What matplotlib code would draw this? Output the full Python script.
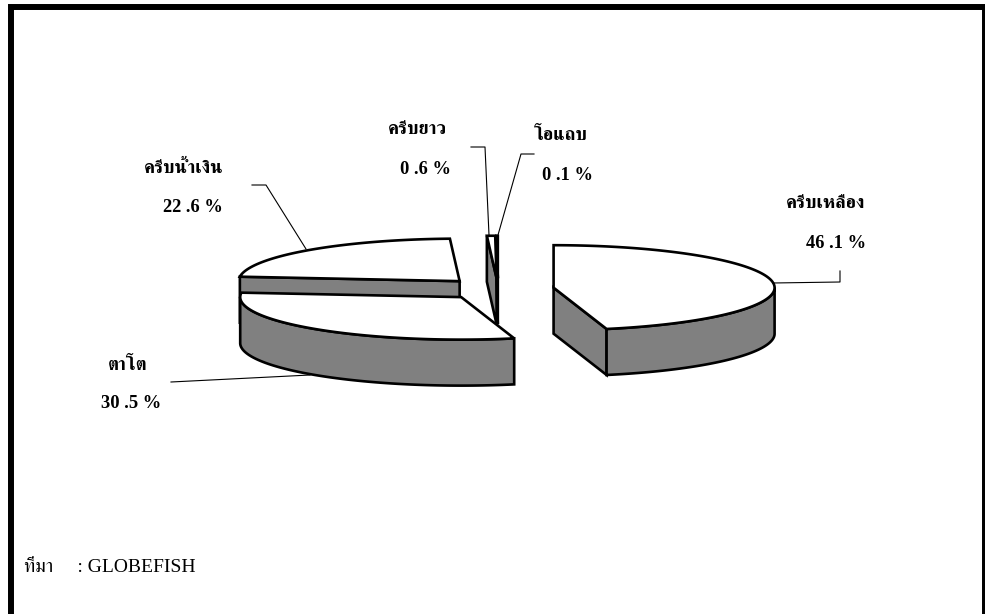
import numpy as np
import matplotlib
matplotlib.use("Agg")
import matplotlib.pyplot as plt

plt.rcParams["font.family"] = ["Liberation Serif", "FreeSerif"]

# pie data, clockwise from 12 o'clock
names = ["ครีบเหลือง", "ตาโต", "ครีบน้ำเงิน", "ครีบยาว", "โอแถบ"]
values = [46.1, 30.5, 22.6, 0.6, 0.1]
value_labels = ["46 .1 %", "30 .5 %", "22 .6 %", "0 .6 %", "0 .1 %"]
source = "ที่มา     : GLOBEFISH"

# pie geometry, in pixels of the picture
cx, cy = 498, 289
rx, ry = 221, 42.5
depth = 46
explode = 56
grey = "#808080"
lw = 1.9

# name position, value position, leader line
name_pos = [(826, 204), (128, 365), (183.5, 168), (417.5, 129), (561, 135)]
value_pos = [(836, 243), (131, 403), (193, 207), (425, 169), (567, 176)]
leader_x = [[773, 840, 840], [171, 310], [252, 266, 306], [471, 485, 489], [534, 521, 498]]
leader_y = [[283, 282, 271], [382, 375], [185, 185, 249], [147, 147, 235], [154, 154, 235]]

fig = plt.figure(figsize=(9.85, 6.14), dpi=100)
ax = fig.add_axes([0, 0, 1, 1])
ax.set_xlim(0, 985)
ax.set_ylim(614, 0)
ax.axis("off")

total = sum(values)
spans = [v / total * 360 for v in values]
starts = 90 - np.cumsum([0] + spans[:-1])
ends = starts - np.array(spans)
mids = (starts + ends) / 2


def rim(ox, oy, a0, a1):
    t = np.radians(np.linspace(a0, a1, 200))
    return ox + rx * np.cos(t), oy - ry * np.sin(t)


# back slices first so the front ones cover them
order = [2, 3, 4, 1, 0]
for z, i in enumerate(order):
    z += 2
    ox = cx + explode * np.cos(np.radians(mids[i]))
    oy = cy - explode * (ry / rx) * np.sin(np.radians(mids[i]))

    # cut faces, only those turned to the viewer
    for a, show in [(starts[i], np.cos(np.radians(starts[i])) < 0),
                    (ends[i], np.cos(np.radians(ends[i])) > 0)]:
        if show:
            x1, y1 = rim(ox, oy, a, a)
            ax.fill([ox, x1[0], x1[0], ox], [oy, y1[0], y1[0] + depth, oy + depth],
                    fc=grey, ec="black", lw=lw, zorder=z)

    # outer wall, front half of the rim only
    hi = min(starts[i], 0)
    lo = max(ends[i], -180)
    if hi > lo:
        wx, wy = rim(ox, oy, hi, lo)
        ax.fill(np.r_[wx, wx[::-1]], np.r_[wy, wy[::-1] + depth],
                fc=grey, ec="black", lw=lw, zorder=z)

    # top face
    tx, ty = rim(ox, oy, starts[i], ends[i])
    ax.fill(np.r_[ox, tx], np.r_[oy, ty], fc="white", ec="black", lw=lw,
            joinstyle="miter", zorder=z)

for i in range(len(names)):
    ax.plot(leader_x[i], leader_y[i], color="black", lw=0.8, zorder=10)
    ax.text(name_pos[i][0], name_pos[i][1], names[i], fontsize=13.3, fontweight="bold",
            ha="center", va="center", zorder=11)
    ax.text(value_pos[i][0], value_pos[i][1], value_labels[i], fontsize=13.3, fontweight="bold",
            ha="center", va="center", zorder=11)

ax.text(24, 567, source, fontsize=14, ha="left", va="center")

# outer frame, bottom edge is cut off in the original
ax.plot([11, 11, 985, 985], [620, 7, 7, 620], color="black", lw=4.3, solid_joinstyle="miter")

fig.savefig("out.png")
